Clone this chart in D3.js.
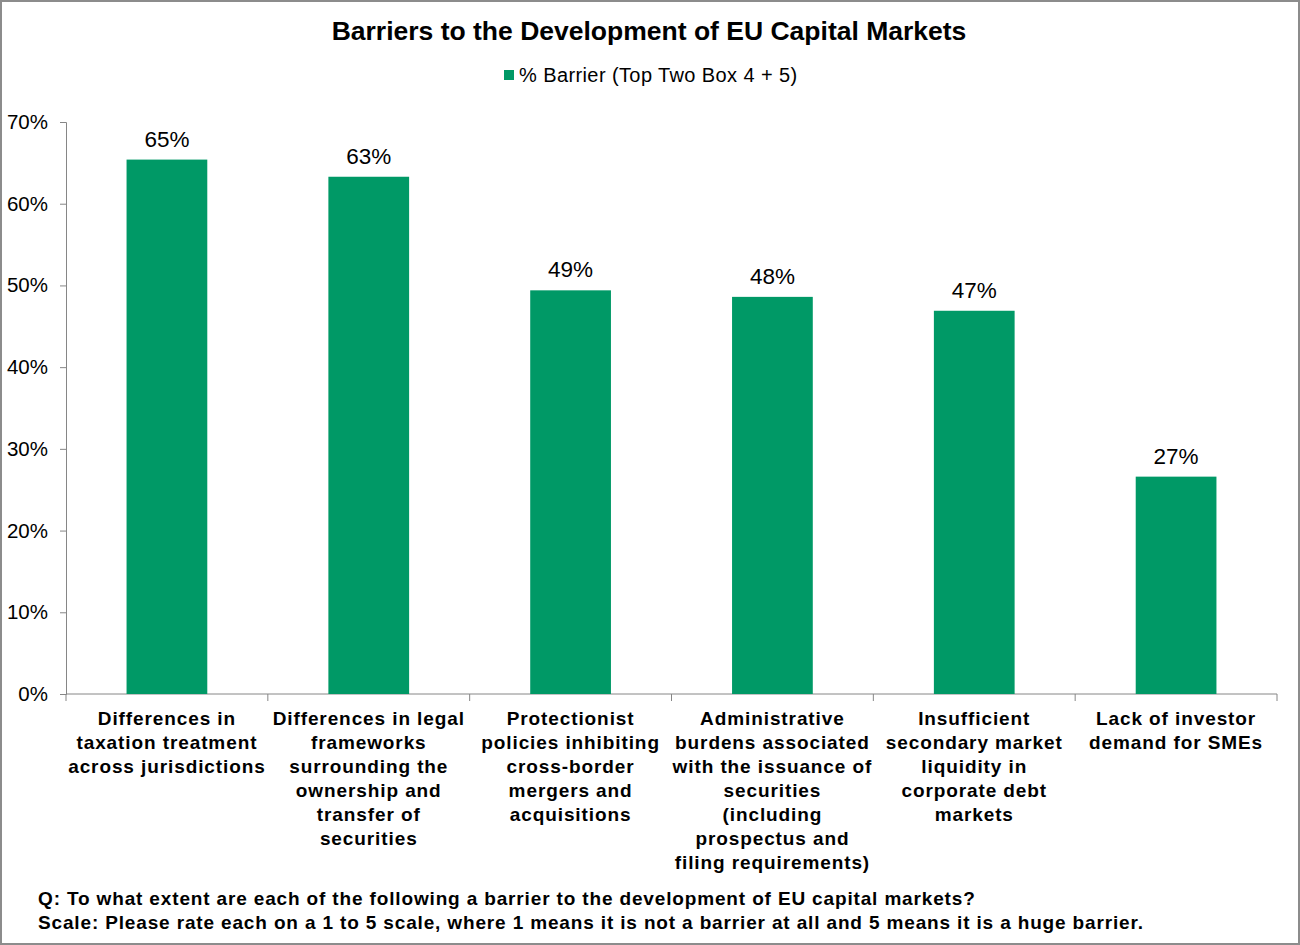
<!DOCTYPE html>
<html>
<head>
<meta charset="utf-8">
<script src="https://cdn.jsdelivr.net/npm/d3@7"></script>
<style>
  body { margin: 0; background: #fff; }
  text { font-family: "Liberation Sans", Arial, sans-serif; fill: #000; }
</style>
</head>
<body>
<div id="chart"></div>
<script>
var svgWidth = 1300;
var svgHeight = 945;

// data
var categories = [
  ["Differences in", "taxation treatment", "across jurisdictions"],
  ["Differences in legal", "frameworks", "surrounding the", "ownership and", "transfer of", "securities"],
  ["Protectionist", "policies inhibiting", "cross-border", "mergers and", "acquisitions"],
  ["Administrative", "burdens associated", "with the issuance of", "securities", "(including", "prospectus and", "filing requirements)"],
  ["Insufficient", "secondary market", "liquidity in", "corporate debt", "markets"],
  ["Lack of investor", "demand for SMEs"]
];
var barrierValues = [65.4, 63.3, 49.4, 48.6, 46.9, 26.6];
var valueLabels = ["65%", "63%", "49%", "48%", "47%", "27%"];
var yTicks = [0, 10, 20, 30, 40, 50, 60, 70];
var seriesName = "% Barrier (Top Two Box 4 + 5)";
var footnotes = [
  "Q: To what extent are each of the following a barrier to the development of EU capital markets?",
  "Scale: Please rate each on a 1 to 5 scale, where 1 means it is not a barrier at all and 5 means it is a huge barrier."
];

var margin = { top: 122, right: 23, bottom: 251, left: 66 };
var width = svgWidth - margin.left - margin.right;
var height = svgHeight - margin.top - margin.bottom;

var svg = d3.select("#chart")
  .append("svg")
  .attr("width", svgWidth)
  .attr("height", svgHeight);

// outer frame
svg.append("rect")
  .attr("x", 1).attr("y", 1)
  .attr("width", svgWidth - 2).attr("height", svgHeight - 2)
  .attr("fill", "none")
  .attr("stroke", "#8c8c8c")
  .attr("stroke-width", 2);

// title
svg.append("text")
  .attr("x", 649).attr("y", 40)
  .attr("text-anchor", "middle")
  .attr("font-size", "26.5px")
  .attr("font-weight", "bold")
  .text("Barriers to the Development of EU Capital Markets");

// legend
svg.append("rect")
  .attr("x", 504).attr("y", 70)
  .attr("width", 10).attr("height", 10)
  .attr("fill", "#009966");
svg.append("text")
  .attr("x", 519).attr("y", 82)
  .attr("font-size", "20px")
  .attr("letter-spacing", "0.4px")
  .text(seriesName);

var chartGroup = svg.append("g")
  .attr("transform", `translate(${margin.left}, ${margin.top})`);

var xBandScale = d3.scaleBand()
  .domain(d3.range(categories.length))
  .range([0, width])
  .paddingInner(0.6)
  .paddingOuter(0.3);

var yLinearScale = d3.scaleLinear()
  .domain([0, 70])
  .range([height, 0]);

// y axis
var leftAxis = d3.axisLeft(yLinearScale)
  .tickValues(yTicks)
  .tickSize(6)
  .tickPadding(12)
  .tickFormat(d => d + "%");

var yAxis = chartGroup.append("g")
  .call(leftAxis);
yAxis.select(".domain").attr("stroke", "#868686");
yAxis.selectAll(".tick line").attr("stroke", "#868686");
yAxis.selectAll(".tick text")
  .attr("font-size", "20.5px")
  .attr("font-family", "Liberation Sans, Arial, sans-serif")
  .attr("fill", "#000");

// x axis: ticks at category boundaries
var step = width / categories.length;
chartGroup.append("line")
  .attr("x1", 0).attr("x2", width)
  .attr("y1", height).attr("y2", height)
  .attr("stroke", "#868686");
chartGroup.selectAll(".xtick")
  .data(d3.range(categories.length + 1))
  .enter()
  .append("line")
  .attr("class", "xtick")
  .attr("x1", d => d * step).attr("x2", d => d * step)
  .attr("y1", height).attr("y2", height + 7)
  .attr("stroke", "#868686");

// bars
chartGroup.selectAll(".bar")
  .data(barrierValues)
  .enter()
  .append("rect")
  .attr("class", "bar")
  .attr("x", (d, i) => xBandScale(i))
  .attr("y", d => yLinearScale(d))
  .attr("width", xBandScale.bandwidth())
  .attr("height", d => height - yLinearScale(d))
  .attr("fill", "#009966");

// value labels
chartGroup.selectAll(".valueLabel")
  .data(barrierValues)
  .enter()
  .append("text")
  .attr("class", "valueLabel")
  .attr("x", (d, i) => xBandScale(i) + xBandScale.bandwidth() / 2)
  .attr("y", d => yLinearScale(d) - 13)
  .attr("text-anchor", "middle")
  .attr("font-size", "22.5px")
  .text((d, i) => valueLabels[i]);

// category labels
var catGroups = chartGroup.selectAll(".catLabel")
  .data(categories)
  .enter()
  .append("text")
  .attr("class", "catLabel")
  .attr("text-anchor", "middle")
  .attr("font-size", "19px")
  .attr("font-weight", "bold")
  .attr("letter-spacing", "0.9px")
  .attr("transform", (d, i) => `translate(${xBandScale(i) + xBandScale.bandwidth() / 2}, ${height + 31})`);

catGroups.selectAll("tspan")
  .data(d => d)
  .enter()
  .append("tspan")
  .attr("x", 0)
  .attr("y", (d, i) => i * 24)
  .text(d => d);

// footnotes
svg.selectAll(".footnote")
  .data(footnotes)
  .enter()
  .append("text")
  .attr("class", "footnote")
  .attr("x", 38)
  .attr("y", (d, i) => 905 + i * 24)
  .attr("font-size", "19px")
  .attr("font-weight", "bold")
  .attr("letter-spacing", "0.85px")
  .text(d => d);
</script>
</body>
</html>
